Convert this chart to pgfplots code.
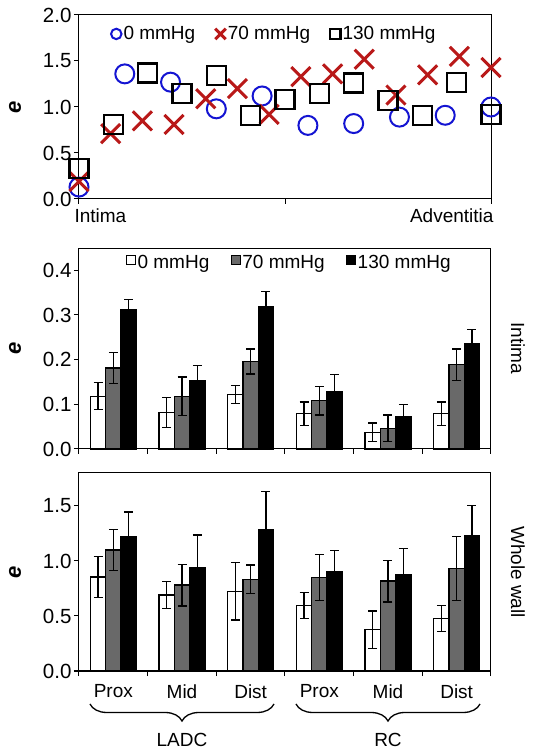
\documentclass[border=0pt]{standalone}
\usepackage{pgfplots}
\pgfplotsset{compat=1.18}
\usepackage{fontspec}
\setmainfont{Liberation Sans}
\usetikzlibrary{decorations.pathreplacing}
\definecolor{cblue}{RGB}{20,20,210}
\definecolor{cred}{RGB}{185,25,25}
\definecolor{cgrey}{RGB}{105,105,105}
\newcommand{\tf}{\fontsize{20.5}{22}\selectfont}
\pgfplotsset{
  panel/.style={scale only axis, width=412pt, clip=false,
    axis line style={line width=1pt},
    tick style={black, line width=1pt}, tick align=outside, major tick length=5pt,
    ytick pos=left, xtick pos=bottom,
    font=\fontsize{19}{21}\selectfont,
    yticklabel style={font=\tf, xshift=1pt}},
  barpanel/.style={panel, ybar=0pt, bar width=15.3pt, xmin=-0.5, xmax=5.5, ymin=0,
    xtick={-0.5,0.5,...,5.5}, xticklabels={}},
  werr/.style={error bars/.cd, y dir=both, y explicit,
    error bar style={line width=1.2pt, black},
    error mark options={rotate=90, mark size=4.5pt, line width=1.2pt, black}},
  barleg/.style={legend style={draw=none, fill=none, legend columns=3,
      font=\fontsize{19}{21}\selectfont,
      /tikz/every even column/.append style={column sep=20pt},
      nodes={inner sep=1.5pt}},
    legend image code/.code={\draw[##1, draw=black, line width=1pt] (0pt,-1pt) rectangle (9pt,8pt);}},
}
\begin{document}
\begin{tikzpicture}
% ---------- top panel ----------
\begin{axis}[panel, at={(79pt,554pt)}, anchor=south west, height=184pt,
  xmin=0, xmax=1, ymin=0, ymax=2, xtick={0,0.5,1}, xticklabels={},
  ytick={0,0.5,1,1.5,2},
  yticklabels={{\tf 0.0},{\tf 0.5},{\tf 1.0},{\tf 1.5},{\tf 2.0}},
  legend style={at={(0.474,0.897)}, anchor=center, draw=none, fill=none, legend columns=3,
    font=\fontsize{19}{21}\selectfont,
    /tikz/every even column/.append style={column sep=18pt},
    nodes={inner sep=2pt}},
  legend image code/.code={\draw[#1, every mark/.append style={scale=0.55}] plot coordinates {(0pt,0pt)};}]
\addplot[only marks, mark=o, mark size=9.5pt, mark options={draw=cblue, line width=2pt}] coordinates {
(0,0.13) (0.1111,1.36) (0.2222,1.27) (0.3333,0.98) (0.4444,1.12)
(0.5556,0.80) (0.6667,0.82) (0.7778,0.89) (0.8889,0.91) (1,1.00)};
\addlegendentry{0 mmHg}
\addplot[only marks, mark=x, mark size=13.5pt, mark options={draw=cred, line width=3pt}] coordinates {
(0,0.19) (0.0769,0.71) (0.1538,0.85) (0.2308,0.81) (0.3077,1.09) (0.3846,1.20)
(0.4615,0.92) (0.5385,1.33) (0.6154,1.36) (0.6923,1.52) (0.7692,1.13)
(0.8462,1.35) (0.9231,1.55) (1,1.43)};
\addlegendentry{70 mmHg}
\addplot[only marks, mark=square, mark size=9.5pt, mark options={draw=black, line width=2.2pt}] coordinates {
(0,0.33) (0.0833,0.81) (0.1667,1.37) (0.25,1.15) (0.3333,1.34) (0.4167,0.91)
(0.5,1.08) (0.5833,1.15) (0.6667,1.26) (0.75,1.07) (0.8333,0.91) (0.9167,1.27) (1,0.92)};
\addlegendentry{130 mmHg}
\node[anchor=north west] at ([xshift=-8pt,yshift=-6pt]rel axis cs:0,0) {Intima};
\node[anchor=north east] at ([xshift=6pt,yshift=-6pt]rel axis cs:1,0) {Adventitia};
\node[rotate=90] at ([xshift=-64pt]rel axis cs:0,0.5) {\fontsize{22}{24}\selectfont\textbf{\textit{e}}};
\end{axis}
% ---------- middle panel ----------
\begin{axis}[barpanel, barleg, at={(79pt,304pt)}, anchor=south west, height=201pt,
  ymax=0.45, ytick={0,0.1,0.2,0.3,0.4},
  yticklabels={{\tf 0.0},{\tf 0.1},{\tf 0.2},{\tf 0.3},{\tf 0.4}},
  legend style={at={(0.51,0.925)}, anchor=center}]
\addplot[fill=white, draw=black, line width=1.4pt, werr] coordinates {
(0,0.118)+-(0,0.030) (1,0.082)+-(0,0.034) (2,0.122)+-(0,0.020)
(3,0.079)+-(0,0.026) (4,0.037)+-(0,0.021) (5,0.079)+-(0,0.026)};
\addlegendentry{0 mmHg}
\addplot[fill=cgrey, draw=black, line width=1.4pt, werr] coordinates {
(0,0.181)+-(0,0.035) (1,0.118)+-(0,0.043) (2,0.196)+-(0,0.028)
(3,0.108)+-(0,0.032) (4,0.046)+-(0,0.030) (5,0.189)+-(0,0.035)};
\addlegendentry{70 mmHg}
\addplot[fill=black, draw=black, line width=1.4pt, werr] coordinates {
(0,0.312)+-(0,0.022) (1,0.153)+-(0,0.034) (2,0.319)+-(0,0.033)
(3,0.129)+-(0,0.037) (4,0.073)+-(0,0.026) (5,0.236)+-(0,0.031)};
\addlegendentry{130 mmHg}
\node[rotate=90] at ([xshift=-64pt]rel axis cs:0,0.5) {\fontsize{22}{24}\selectfont\textbf{\textit{e}}};
\node[rotate=-90] at ([xshift=27pt]rel axis cs:1,0.5) {Intima};
\end{axis}
% ---------- bottom panel ----------
\begin{axis}[barpanel, at={(79pt,82pt)}, anchor=south west, height=198pt,
  ymax=1.8, ytick={0,0.5,1,1.5},
  yticklabels={{\tf 0.0},{\tf 0.5},{\tf 1.0},{\tf 1.5}},
  extra x ticks={0,1,2,3,4,5},
  extra x tick labels={Prox,Mid,Dist,Prox,Mid,Dist},
  extra x tick style={major tick length=0pt, xticklabel style={yshift=-10pt, font=\fontsize{19}{21}\selectfont}}]
\addplot[fill=white, draw=black, line width=1.4pt, werr] coordinates {
(0,0.855)+-(0,0.185) (1,0.69)+-(0,0.125) (2,0.724)+-(0,0.26)
(3,0.597)+-(0,0.12) (4,0.376)+-(0,0.17) (5,0.476)+-(0,0.12)};
\addplot[fill=cgrey, draw=black, line width=1.4pt, werr] coordinates {
(0,1.10)+-(0,0.185) (1,0.78)+-(0,0.19) (2,0.833)+-(0,0.13)
(3,0.848)+-(0,0.21) (4,0.818)+-(0,0.19) (5,0.93)+-(0,0.29)};
\addplot[fill=black, draw=black, line width=1.4pt, werr] coordinates {
(0,1.22)+-(0,0.225) (1,0.936)+-(0,0.30) (2,1.285)+-(0,0.35)
(3,0.903)+-(0,0.19) (4,0.876)+-(0,0.235) (5,1.233)+-(0,0.27)};
\node[rotate=90] at ([xshift=-64pt]rel axis cs:0,0.5) {\fontsize{22}{24}\selectfont\textbf{\textit{e}}};
\node[rotate=-90] at ([xshift=27pt]rel axis cs:1,0.5) {Whole wall};
\draw[decorate, decoration={brace, mirror, amplitude=17pt}, line width=1.3pt]
  ([yshift=-33pt]axis cs:-0.34,0) -- ([yshift=-33pt]axis cs:2.34,0);
\draw[decorate, decoration={brace, mirror, amplitude=17pt}, line width=1.3pt]
  ([yshift=-33pt]axis cs:2.66,0) -- ([yshift=-33pt]axis cs:5.34,0);
\node at ([yshift=-69pt]axis cs:1,0) {LADC};
\node at ([yshift=-69pt]axis cs:4,0) {RC};
\end{axis}
\pgfresetboundingbox
\path (0pt,0pt) rectangle (547pt,753pt);
\end{tikzpicture}
\end{document}
